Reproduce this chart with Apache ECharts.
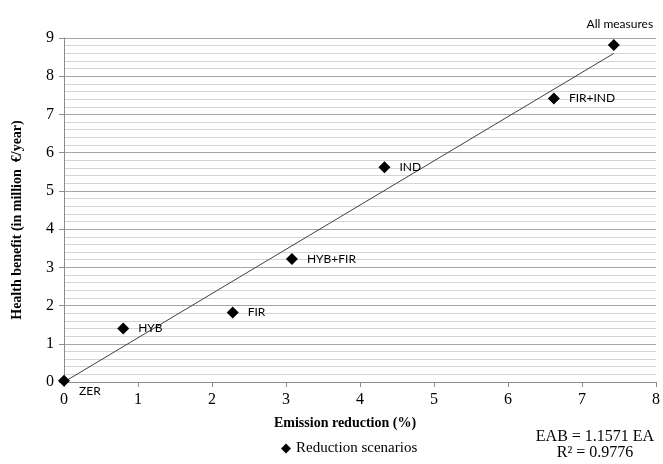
<!DOCTYPE html>
<html>
<head>
<meta charset="utf-8">
<script src="https://cdn.jsdelivr.net/npm/echarts@6/dist/echarts.min.js"></script>
<style>
  html, body { margin: 0; padding: 0; background: #fff; }
  #chart { width: 663px; height: 464px; }
</style>
</head>
<body>
<div id="chart"></div>
<script>
// scenario names and their (emission reduction %, health benefit) values
const scenarios = ['ZER', 'HYB', 'FIR', 'HYB+FIR', 'IND', 'FIR+IND', 'All measures']
const emissionReduction = [0, 0.8, 2.28, 3.08, 4.33, 6.62, 7.43]
const healthBenefit = [0.03, 1.4, 1.82, 3.22, 5.62, 7.42, 8.82]
// linear fit through origin, EAB = 1.1571 EA
const slope = 1.1571
const trendX = [0, 7.43]

const chart = echarts.init(document.getElementById('chart'))

const points = emissionReduction.map((x, i) => ({
    value: [x, healthBenefit[i]],
    name: scenarios[i],
    label: scenarios[i] === 'All measures'
        ? { position: 'top', offset: [6, -4] }
        : scenarios[i] === 'ZER'
            ? { position: 'right', offset: [4, 10] }
            : { position: 'right', offset: [4, 0] }
}))

chart.setOption({
    animation: false,
    grid: { left: 64, right: 5, top: 38, bottom: 82 },
    xAxis: {
        type: 'value',
        min: 0, max: 8, interval: 1,
        name: 'Emission reduction (%)',
        nameLocation: 'middle',
        nameGap: 34,
        nameTextStyle: { fontFamily: 'Liberation Serif', fontWeight: 'bold', fontSize: 14, color: '#000', padding: [0, 30, 0, 0] },
        axisLine: { lineStyle: { color: '#8c8c8c' } },
        axisTick: { show: true, length: 5, lineStyle: { color: '#8c8c8c' } },
        axisLabel: { fontFamily: 'Liberation Serif', fontSize: 16, color: '#000', margin: 10 },
        splitLine: { show: false }
    },
    yAxis: {
        type: 'value',
        min: 0, max: 9, interval: 1,
        axisLine: { show: true, lineStyle: { color: '#8c8c8c' } },
        axisTick: { show: true, length: 5, lineStyle: { color: '#8c8c8c' } },
        axisLabel: { fontFamily: 'Liberation Serif', fontSize: 16, color: '#000', margin: 10 },
        splitLine: { show: true, lineStyle: { color: '#a6a6a6', width: 1 } },
        minorTick: { show: false, splitNumber: 5 },
        minorSplitLine: { show: true, lineStyle: { color: '#d4d4d4', width: 1 } }
    },
    legend: {
        data: [{ name: 'Reduction scenarios', icon: 'diamond' }],
        left: 276, top: 436,
        itemWidth: 10, itemHeight: 10, itemGap: 2,
        textStyle: { fontFamily: 'Liberation Serif', fontSize: 15, color: '#000' }
    },
    graphic: [
        {
            type: 'text', x: 17, y: 220, rotation: Math.PI / 2,
            style: {
                text: 'Health benefit (in million  €/year)',
                font: 'bold 14px "Liberation Serif"', fill: '#000',
                align: 'center', verticalAlign: 'middle'
            }
        },
        {
            type: 'text', x: 595, y: 437,
            style: { text: 'EAB = 1.1571 EA', font: '16px "Liberation Serif"', fill: '#000', align: 'center', verticalAlign: 'middle' }
        },
        {
            type: 'text', x: 595, y: 453,
            style: { text: 'R² = 0.9776', font: '16px "Liberation Serif"', fill: '#000', align: 'center', verticalAlign: 'middle' }
        }
    ],
    series: [
        {
            name: 'Trend',
            type: 'line',
            data: trendX.map(x => [x, x * slope]),
            symbol: 'none',
            lineStyle: { color: '#404040', width: 1 },
            z: 2
        },
        {
            name: 'Reduction scenarios',
            type: 'scatter',
            data: points,
            symbol: 'diamond',
            symbolSize: 12,
            itemStyle: { color: '#000', opacity: 1 },
            label: {
                show: true,
                formatter: p => p.name,
                fontFamily: 'Lato',
                fontSize: 12,
                color: '#000'
            },
            z: 3
        }
    ]
})
</script>
</body>
</html>
